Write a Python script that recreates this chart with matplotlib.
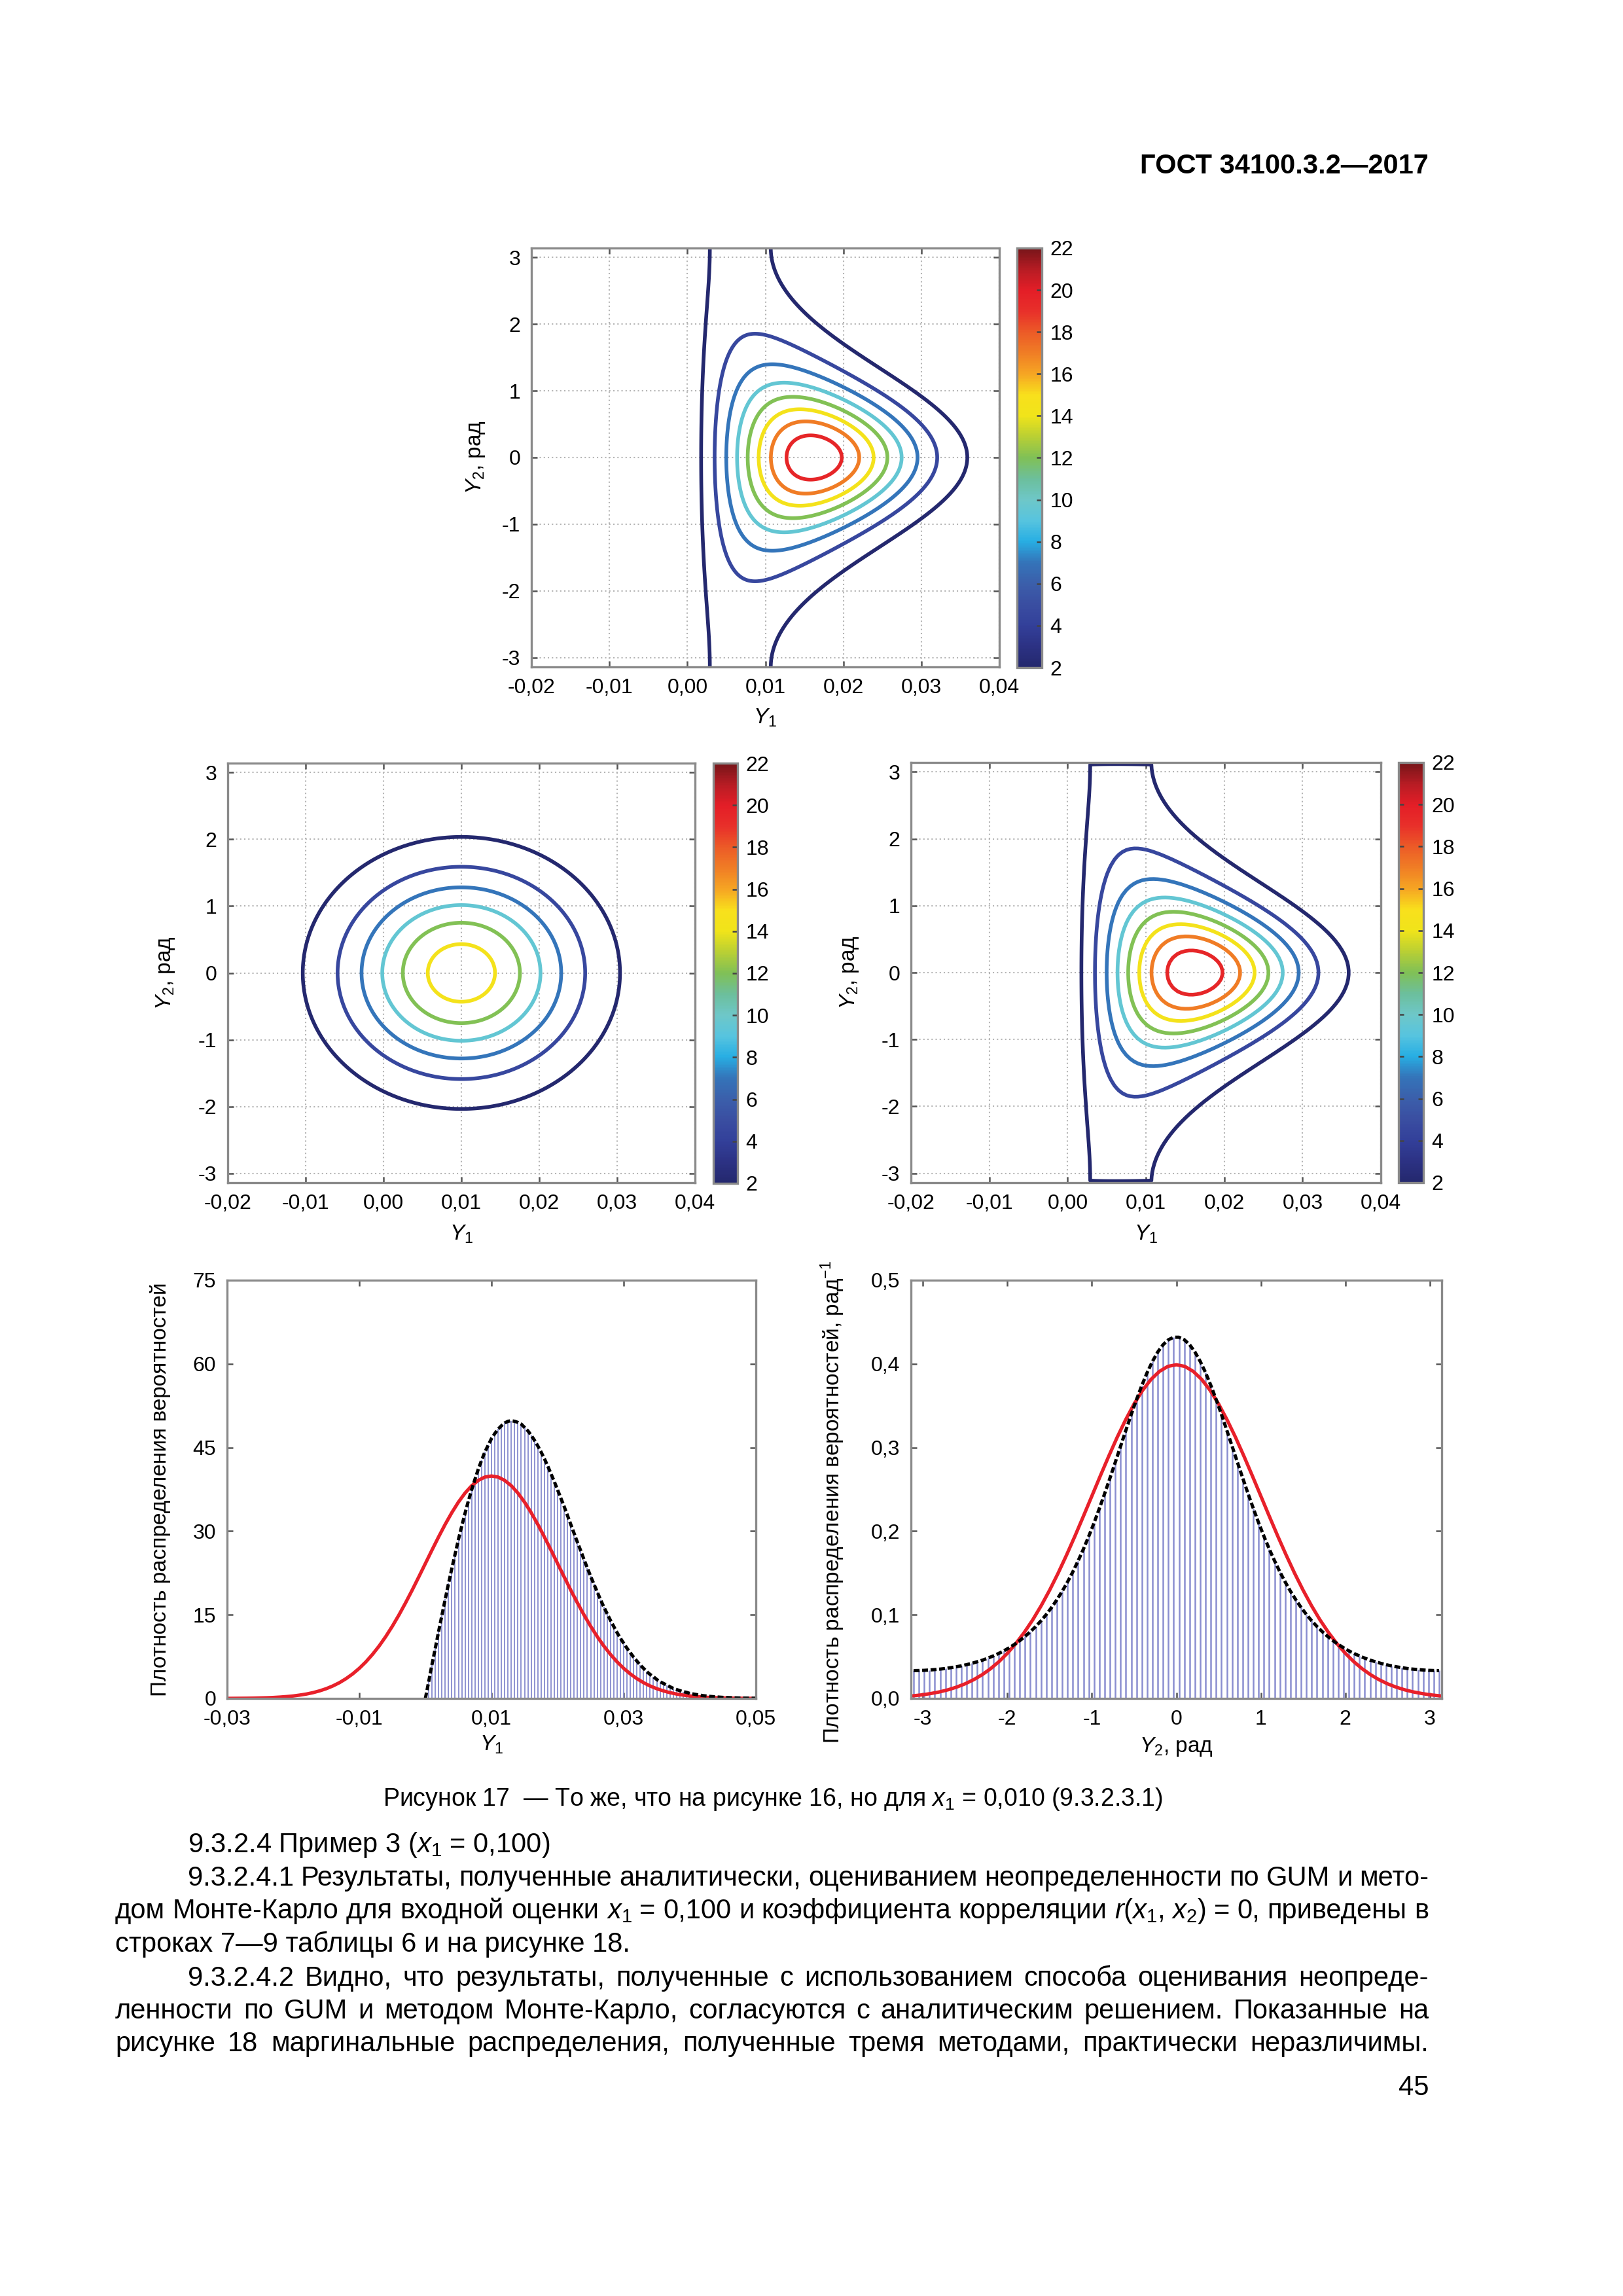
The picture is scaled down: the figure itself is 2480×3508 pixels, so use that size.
import numpy as np
import matplotlib
matplotlib.use('Agg')
import matplotlib.pyplot as plt
from matplotlib.colors import LinearSegmentedColormap, Normalize
from matplotlib.cm import ScalarMappable
from matplotlib.ticker import FixedLocator, FuncFormatter

plt.rcParams['font.family'] = ['Liberation Sans', 'DejaVu Sans']
plt.rcParams['mathtext.fontset'] = 'custom'
plt.rcParams['mathtext.rm'] = 'Liberation Sans'
plt.rcParams['mathtext.it'] = 'Liberation Sans:italic'
plt.rcParams['mathtext.bf'] = 'Liberation Sans:bold'
plt.rcParams['axes.unicode_minus'] = False

# ---- data read from the page ----
x1_est = 0.010          # input estimate x1
u_x = 0.010             # standard uncertainty of x1, x2
u_y1_gum = 0.010        # GUM: u(Y1)
u_y2_gum = 1.0          # GUM: u(Y2), rad
contour_levels = [2, 4.5, 7, 9.5, 12, 14.5, 17, 19.5]
cbar_ticks = [2, 4, 6, 8, 10, 12, 14, 16, 18, 20, 22]

# printed "jet" palette as it appears on the colour bars
cbar_values = [2, 3, 4, 5, 6, 7, 8, 9, 10, 11, 12, 13, 14, 15, 16, 17, 18, 19, 20, 21, 22]
cbar_colors = ['#24286e', '#2c3284', '#33409a', '#3a4ea1', '#3b5fab', '#3474b9', '#27aee3',
               '#57c4df', '#6ec7c8', '#6cbf9c', '#80c056', '#b9cf34', '#f0e41a', '#f8e01c',
               '#f6a623', '#f07e25', '#ec5b27', '#e8302a', '#e41e27', '#b81c24', '#781519']

# marginal of Y1: Monte Carlo histogram (bin step 0.0005 from 0) and GUM curve
y1_bin_step = 0.0005
y1_mc = [0.0, 3.0, 6.1, 9.0, 12.0, 14.9, 17.8, 20.6, 23.3, 25.9,
         28.5, 30.9, 33.2, 35.4, 37.4, 39.3, 41.1, 42.7, 44.2, 45.4,
         46.6, 47.5, 48.3, 48.9, 49.4, 49.7, 49.8, 49.7, 49.5, 49.2,
         48.6, 48.0, 47.2, 46.3, 45.3, 44.2, 43.0, 41.7, 40.3, 38.9,
         37.4, 35.9, 34.4, 32.8, 31.2, 29.6, 28.0, 26.5, 24.9, 23.4,
         21.9, 20.5, 19.1, 17.7, 16.4, 15.2, 14.0, 12.9, 11.8, 10.8,
         9.9, 9.0, 8.2, 7.4, 6.7, 6.0, 5.4, 4.8, 4.3, 3.9,
         3.4, 3.0, 2.7, 2.4, 2.1, 1.8, 1.6, 1.4, 1.2, 1.1,
         0.9, 0.8, 0.7, 0.6, 0.5, 0.44, 0.37, 0.32, 0.27, 0.23,
         0.19, 0.16, 0.14, 0.12, 0.10, 0.08, 0.07, 0.06, 0.05, 0.04, 0.03]
y1_gum_x0 = -0.03
y1_gum_step = 0.001
y1_gum = [0.01, 0.02, 0.03, 0.04, 0.06, 0.09, 0.12, 0.17, 0.24, 0.33,
          0.44, 0.60, 0.79, 1.04, 1.36, 1.75, 2.24, 2.83, 3.55, 4.40,
          5.40, 6.56, 7.90, 9.40, 11.09, 12.95, 14.97, 17.14, 19.42, 21.79,
          24.20, 26.61, 28.97, 31.23, 33.32, 35.21, 36.83, 38.14, 39.10, 39.70,
          39.89,
          39.70, 39.10, 38.14, 36.83, 35.21, 33.32, 31.23, 28.97, 26.61, 24.20,
          21.79, 19.42, 17.14, 14.97, 12.95, 11.09, 9.40, 7.90, 6.56, 5.40,
          4.40, 3.55, 2.83, 2.24, 1.75, 1.36, 1.04, 0.79, 0.60, 0.44,
          0.33, 0.24, 0.17, 0.12, 0.09, 0.06, 0.04, 0.03, 0.02, 0.01]

# marginal of Y2: Monte Carlo histogram (100 bins over [-pi, pi]) and GUM curve
y2_nbins = 100
y2_mc = [0.0333, 0.0334, 0.0336, 0.0340, 0.0345, 0.0351, 0.0358, 0.0368, 0.0378, 0.0390,
         0.0404, 0.0420, 0.0439, 0.0458, 0.0482, 0.0508, 0.0537, 0.0569, 0.0606, 0.0646,
         0.0691, 0.0742, 0.0798, 0.0860, 0.0928, 0.1004, 0.1088, 0.1181, 0.1282, 0.1393,
         0.1514, 0.1646, 0.1787, 0.1939, 0.2100, 0.2272, 0.2450, 0.2636, 0.2824, 0.3017,
         0.3207, 0.3395, 0.3574, 0.3742, 0.3896, 0.4029, 0.4142, 0.4229, 0.4288, 0.4318,
         0.4318, 0.4288, 0.4229, 0.4142, 0.4029, 0.3896, 0.3742, 0.3574, 0.3395, 0.3207,
         0.3017, 0.2824, 0.2636, 0.2450, 0.2272, 0.2100, 0.1939, 0.1787, 0.1646, 0.1514,
         0.1393, 0.1282, 0.1181, 0.1088, 0.1004, 0.0928, 0.0860, 0.0798, 0.0742, 0.0691,
         0.0646, 0.0606, 0.0569, 0.0537, 0.0508, 0.0482, 0.0458, 0.0439, 0.0420, 0.0404,
         0.0390, 0.0378, 0.0368, 0.0358, 0.0351, 0.0345, 0.0340, 0.0336, 0.0334, 0.0333]
y2_gum_x0 = -3.2
y2_gum_step = 0.1
y2_gum = [0.0024, 0.0033, 0.0044, 0.0060, 0.0079, 0.0104, 0.0136, 0.0175, 0.0224, 0.0283,
          0.0355, 0.0440, 0.0540, 0.0656, 0.0790, 0.0940, 0.1109, 0.1295, 0.1497, 0.1714,
          0.1942, 0.2179, 0.2420, 0.2661, 0.2897, 0.3123, 0.3332, 0.3521, 0.3683, 0.3814,
          0.3910, 0.3970, 0.3989,
          0.3970, 0.3910, 0.3814, 0.3683, 0.3521, 0.3332, 0.3123, 0.2897, 0.2661, 0.2420,
          0.2179, 0.1942, 0.1714, 0.1497, 0.1295, 0.1109, 0.0940, 0.0790, 0.0656, 0.0540,
          0.0440, 0.0355, 0.0283, 0.0224, 0.0175, 0.0136, 0.0104, 0.0079, 0.0060, 0.0044,
          0.0033, 0.0024]

y1_ticks_2d = [-0.02, -0.01, 0.0, 0.01, 0.02, 0.03, 0.04]
y2_ticks_2d = [-3, -2, -1, 0, 1, 2, 3]
y1_ticks_pdf = [-0.03, -0.01, 0.01, 0.03, 0.05]
y1_pdf_yticks = [0, 15, 30, 45, 60, 75]
y2_ticks_pdf = [-3, -2, -1, 0, 1, 2, 3]
y2_pdf_yticks = [0.0, 0.1, 0.2, 0.3, 0.4, 0.5]

header = 'ГОСТ 34100.3.2—2017'
caption = 'Рисунок 17  — То же, что на рисунке 16, но для $x_1$ = 0,010 (9.3.2.3.1)'
body = [
    ('9.3.2.4 Пример 3 ($x_1$ = 0,100)', 287, False),
    ('9.3.2.4.1 Результаты, полученные аналитически, оцениванием неопределенности по GUM и мето-', 287, True),
    ('дом Монте-Карло для входной оценки $x_1$ = 0,100 и коэффициента корреляции $r$($x_1$, $x_2$) = 0, приведены в', 176, True),
    ('строках 7—9 таблицы 6 и на рисунке 18.', 176, False),
    ('9.3.2.4.2 Видно, что результаты, полученные с использованием способа оценивания неопреде-', 287, True),
    ('ленности по GUM и методом Монте-Карло, согласуются с аналитическим решением. Показанные на', 176, True),
    ('рисунке 18 маргинальные распределения, полученные тремя методами, практически неразличимы.', 176, True),
]
page_no = '45'

# ---- figure ----
W, H = 2480, 3508
fig = plt.figure(figsize=(W / 300, H / 300), dpi=300)
fig.patch.set_facecolor('white')

cmap = LinearSegmentedColormap.from_list(
    'printjet', [((v - 2) / 20.0, c) for v, c in zip(cbar_values, cbar_colors)])
norm = Normalize(vmin=2, vmax=22)

SPINE = '#8a8a8a'
BAR = '#8a8ed0'


def rect(l, t, r, b):
    return [l / W, 1 - b / H, (r - l) / W, (b - t) / H]


def comma(fmt):
    return FuncFormatter(lambda v, p: (fmt % v).replace('.', ','))


def frame(ax):
    for s in ax.spines.values():
        s.set_color(SPINE)
        s.set_linewidth(0.8)
    ax.tick_params(direction='in', top=True, right=True, length=2.2, width=0.6,
                   color='#555555', labelsize=7.7, pad=4)


def joint_pdf(r, th):
    # polar transform of two uncorrelated normal inputs
    val = r / (2 * np.pi * u_x ** 2) * np.exp(
        -(r ** 2 - 2 * r * x1_est * np.cos(th) + x1_est ** 2) / (2 * u_x ** 2))
    return np.where(r > 0, val, 0.0)


def contour_panel(pos, cpos, y1g, y2g, field, ylab_x):
    ax = fig.add_axes(pos)
    ax.contour(y1g, y2g, field, levels=contour_levels, cmap=cmap, norm=norm, linewidths=1.35)
    ax.set_xlim(-0.02, 0.04)
    ax.set_ylim(-np.pi, np.pi)
    ax.xaxis.set_major_locator(FixedLocator(y1_ticks_2d))
    ax.xaxis.set_major_formatter(comma('%.2f'))
    ax.yaxis.set_major_locator(FixedLocator(y2_ticks_2d))
    ax.grid(True, linestyle=(0, (1, 2)), color='#b4b4b4', linewidth=0.5)
    frame(ax)
    ax.set_xlabel('$Y_1$', fontsize=8)
    ax.xaxis.set_label_coords(0.5, -0.097)
    ax.set_ylabel('$Y_2$, рад', fontsize=8)
    ax.yaxis.set_label_coords(ylab_x, 0.5)
    cax = fig.add_axes(cpos)
    sm = ScalarMappable(norm=norm, cmap=cmap)
    cb = fig.colorbar(sm, cax=cax, ticks=cbar_ticks)
    cb.outline.set_edgecolor(SPINE)
    cb.outline.set_linewidth(0.8)
    cax.yaxis.set_ticks_position('both')
    cax.tick_params(direction='in', length=2, width=0.6, color='#444444', labelsize=7.7, pad=3)
    cax.tick_params(labelleft=False, labelright=True)
    return ax


# analytic joint pdf (top)
y1_fine = np.linspace(-0.02, 0.04, 721)
y2_fine = np.linspace(-np.pi, np.pi, 721)
R, T = np.meshgrid(y1_fine, y2_fine)
pdf_exact = joint_pdf(R, T)
contour_panel(rect(812, 379, 1527, 1019), rect(1554, 379, 1592, 1020),
              y1_fine, y2_fine, pdf_exact, -0.095)

# GUM bivariate normal (middle left)
pdf_gum = (1 / (2 * np.pi * u_y1_gum * u_y2_gum)) * np.exp(
    -0.5 * ((R - x1_est) / u_y1_gum) ** 2 - 0.5 * (T / u_y2_gum) ** 2)
contour_panel(rect(348, 1166, 1062, 1807), rect(1090, 1166, 1127, 1808),
              y1_fine, y2_fine, pdf_gum, -0.109)

# Monte Carlo density on histogram cells (middle right)
th_cells = -np.pi + (np.arange(y2_nbins) + 0.5) * 2 * np.pi / y2_nbins
th_mc = np.concatenate([[-np.pi], th_cells, [np.pi]])
r_mc = np.arange(-0.02, 0.04 + 1e-9, 0.0005)
Rm, Tm = np.meshgrid(r_mc, th_mc)
pdf_mc = joint_pdf(Rm, Tm)
pdf_mc[0, :] = 0.0
pdf_mc[-1, :] = 0.0
contour_panel(rect(1392, 1165, 2110, 1807), rect(2137, 1165, 2175, 1807),
              r_mc, th_mc, pdf_mc, -0.107)

# ---- marginal of Y1 ----
ax = fig.add_axes(rect(347, 1956, 1155, 2595))
x_mc = np.arange(len(y1_mc)) * y1_bin_step
ax.vlines(x_mc[1:], 0, y1_mc[1:], color=BAR, linewidth=0.45)
x_g = y1_gum_x0 + np.arange(len(y1_gum)) * y1_gum_step
ax.plot(x_g, y1_gum, color='#e8202a', linewidth=1.25)
ax.plot(x_mc, y1_mc, color='black', linewidth=1.2, dashes=(1.8, 0.8))
ax.set_xlim(-0.03, 0.05)
ax.set_ylim(0, 75)
ax.xaxis.set_major_locator(FixedLocator(y1_ticks_pdf))
ax.xaxis.set_major_formatter(comma('%.2f'))
ax.yaxis.set_major_locator(FixedLocator(y1_pdf_yticks))
frame(ax)
ax.set_xlabel('$Y_1$', fontsize=8)
ax.xaxis.set_label_coords(0.5, -0.085)
ax.set_ylabel('Плотность распределения вероятностей', fontsize=8)
ax.yaxis.set_label_coords(-0.106, 0.5)

# ---- marginal of Y2 ----
ax = fig.add_axes(rect(1392, 1956, 2203, 2595))
th_bar = -np.pi + (np.arange(len(y2_mc)) + 0.5) * 2 * np.pi / y2_nbins
ax.vlines(th_bar, 0, y2_mc, color=BAR, linewidth=0.6)
x_g2 = y2_gum_x0 + np.arange(len(y2_gum)) * y2_gum_step
ax.plot(x_g2, y2_gum, color='#e8202a', linewidth=1.25)
ax.plot(th_bar, y2_mc, color='black', linewidth=1.2, dashes=(1.8, 0.8))
ax.set_xlim(-np.pi, np.pi)
ax.set_ylim(0, 0.5)
ax.xaxis.set_major_locator(FixedLocator(y2_ticks_pdf))
ax.yaxis.set_major_locator(FixedLocator(y2_pdf_yticks))
ax.yaxis.set_major_formatter(comma('%.1f'))
frame(ax)
ax.set_xlabel('$Y_2$, рад', fontsize=8)
ax.xaxis.set_label_coords(0.5, -0.089)
ax.set_ylabel('Плотность распределения вероятностей, рад$^{-1}$', fontsize=8)
ax.yaxis.set_label_coords(-0.122, 0.47)

# ---- page text ----
def fx(x):
    return x / W


def fy(y):
    return 1 - y / H


fig.text(fx(2183), fy(265), header, fontsize=10, fontweight='bold', ha='right', va='baseline')
fig.text(fx(1181), fy(2759), caption, fontsize=9, ha='center', va='baseline')

renderer = fig.canvas.get_renderer()
line_base = [2830, 2881, 2931, 2982, 3034, 3084, 3134]
for (txt, x0, just), yb in zip(body, line_base):
    if not just:
        fig.text(fx(x0), fy(yb), txt, fontsize=10, ha='left', va='baseline')
        continue
    words = txt.split(' ')
    items = [fig.text(0, 0, w, fontsize=10, ha='left', va='baseline') for w in words]
    widths = [t.get_window_extent(renderer).width for t in items]
    gap = (2183 - x0 - sum(widths)) / (len(words) - 1)
    xc = x0
    for t, w in zip(items, widths):
        t.set_position((fx(xc), fy(yb)))
        xc += w + gap

fig.text(fx(2183), fy(3201), page_no, fontsize=10, ha='right', va='baseline')

fig.savefig('out.png', dpi=300, facecolor='white')
